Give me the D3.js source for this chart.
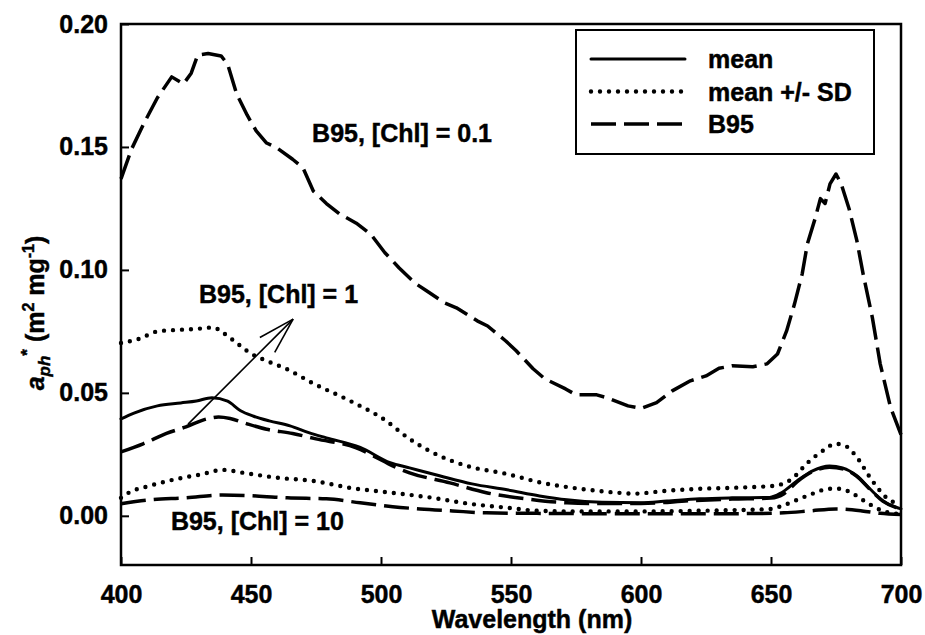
<!DOCTYPE html>
<html>
<head>
<meta charset="utf-8">
<script src="https://cdn.jsdelivr.net/npm/d3@7"></script>
<style>
  body { margin: 0; background: #fff; }
  svg { display: block; }
  text { font-family: "Liberation Sans", Arial, Helvetica, sans-serif; font-weight: bold; fill: #000; stroke: #000; stroke-width: 0.45px; }
</style>
</head>
<body>
<svg id="chart" width="925" height="635"></svg>
<script>
// ---------- DATA ----------
const xTicks = [400, 450, 500, 550, 600, 650, 700];
const yTicks = [0.00, 0.05, 0.10, 0.15, 0.20];

const b95_01_wl = [400,404,409,414,419.5,424,427,429.5,433.5,438.5,441,444.5,448.5,452,456,460,466,470,474,479,484,490.5,496,501.5,507,513,517.5,524.5,529,537,541,548,552,558.5,563,571,575,583,587,595,600,606,612,619,625,630,635,643,648.5,652.5,656,659,662,664,667,669,670.8,672.7,675,677,680,683,685.5,689,692,696,699,700];
const b95_01_val = [0.137,0.149,0.160,0.170,0.1785,0.1756,0.180,0.1874,0.188,0.187,0.1837,0.1715,0.163,0.1565,0.1516,0.1496,0.145,0.1415,0.132,0.127,0.1228,0.119,0.1146,0.107,0.1008,0.0947,0.0915,0.0866,0.0846,0.0793,0.0772,0.0711,0.0671,0.0598,0.0557,0.0516,0.0492,0.0492,0.048,0.0447,0.0437,0.046,0.0508,0.0549,0.0569,0.060,0.061,0.0606,0.0618,0.0658,0.0752,0.086,0.0984,0.1106,0.121,0.129,0.127,0.135,0.139,0.135,0.125,0.112,0.098,0.0805,0.0618,0.044,0.0358,0.033];

const mean_wl = [400,405,414,423,429,435,441,446,451,457,465,472.5,479,492,503.5,511,522.5,535,548.5,561,571.5,585,600,610,622.5,635,649.5,654,660,666,672.5,677.5,683,688,693,700];
const mean_val = [0.0394,0.0418,0.0447,0.0459,0.0467,0.048,0.0466,0.0427,0.0405,0.0386,0.0366,0.0337,0.0317,0.0278,0.0216,0.0195,0.0163,0.013,0.0106,0.0081,0.0065,0.0055,0.0053,0.006,0.0069,0.0073,0.0075,0.0094,0.0142,0.0183,0.0203,0.0195,0.0163,0.011,0.0061,0.0028];

const plusSD_wl = [400,407,414,421.5,429,435.5,439,444.5,449.5,456,463.5,474,488,502,510,519,533,548.5,562,576.5,591,597,610,622.5,635,651,658,664,671,674.5,678.5,682,689,694.5,700];
const plusSD_val = [0.0703,0.072,0.075,0.0756,0.076,0.0766,0.0746,0.0703,0.0663,0.063,0.0598,0.0538,0.0468,0.0386,0.032,0.0262,0.0203,0.017,0.0134,0.011,0.0094,0.009,0.0102,0.011,0.0114,0.0122,0.015,0.0215,0.0272,0.0293,0.0285,0.0252,0.0142,0.0073,0.0045];

const minusSD_wl = [400,403,411,421.5,431.5,439,447,460,474,488,504,520,534,548.5,561,575,600,630,650,654,661,666,672.5,676.5,681.5,687,693,700];
const minusSD_val = [0.0073,0.0094,0.0122,0.015,0.017,0.0187,0.0175,0.0155,0.0142,0.0114,0.0094,0.0073,0.0049,0.0033,0.002,0.0018,0.0018,0.0022,0.0028,0.004,0.0069,0.009,0.011,0.011,0.009,0.0053,0.002,0.0006];

const b95_1_wl = [400,408.5,417.5,425,433,437.5,442,448.5,456,466,475,490.5,497,504.5,511,526.5,540.5,556,571.5,585,600,620,635,650,655,660,666,672.5,678,683,688,693,700];
const b95_1_val = [0.026,0.0293,0.0335,0.0362,0.0394,0.0402,0.0396,0.0374,0.0352,0.0335,0.0313,0.0276,0.0244,0.0203,0.0175,0.0134,0.0094,0.0069,0.0053,0.005,0.005,0.0062,0.0068,0.0072,0.009,0.0138,0.018,0.0198,0.019,0.016,0.0108,0.006,0.0027];

const b95_10_wl = [400,411,425,439,452,464,479,492,504.5,515,527.5,540.5,560,600,640,655,665,675,685,692,700];
const b95_10_val = [0.0049,0.0065,0.0073,0.0085,0.0081,0.0073,0.0069,0.0053,0.0037,0.0028,0.002,0.0012,0.001,0.0008,0.0009,0.0012,0.002,0.0028,0.002,0.001,0.0005];

const legendLabels = ["mean", "mean +/- SD", "B95"];
const curveLabels = ["B95, [Chl] = 0.1", "B95, [Chl] = 1", "B95, [Chl] = 10"];
// label anchor positions in data units (wavelength, a*)
const curveLabelWl = [473.5, 430.0, 419.2];
const curveLabelVal = [0.1520, 0.0865, -0.0058];
// arrow in data units: tail -> tip
const arrowWl = [425.8, 466.2];
const arrowVal = [0.0373, 0.0800];

// ---------- LAYOUT ----------
const svg = d3.select("#chart");
const L = 121, R = 901, T = 24, B = 565;
const x = d3.scaleLinear().domain([400, 700]).range([L, R]);
const y = d3.scaleLinear().domain([-0.02, 0.20]).range([B, T]);
const FS = 25;

const styles = {
  solid:  { width: 3, dash: null, cap: "round" },
  dotted: { width: 4.4, dash: "0 9", cap: "round" },
  dashed: { width: 3.5, dash: "25 8", cap: "butt" }
};

function zip(wl, v) { return wl.map((w, i) => [w, v[i]]); }

const series = [
  { data: zip(b95_01_wl, b95_01_val), style: "dashed", curve: d3.curveLinear },
  { data: zip(b95_1_wl, b95_1_val), style: "dashed", curve: d3.curveMonotoneX },
  { data: zip(b95_10_wl, b95_10_val), style: "dashed", curve: d3.curveMonotoneX },
  { data: zip(plusSD_wl, plusSD_val), style: "dotted", curve: d3.curveMonotoneX },
  { data: zip(minusSD_wl, minusSD_val), style: "dotted", curve: d3.curveMonotoneX },
  { data: zip(mean_wl, mean_val), style: "solid", curve: d3.curveMonotoneX }
];

const gLines = svg.append("g");
series.forEach(s => {
  const line = d3.line().x(d => x(d[0])).y(d => y(d[1])).curve(s.curve);
  const st = styles[s.style];
  gLines.append("path")
    .attr("d", line(s.data))
    .attr("fill", "none")
    .attr("stroke", "#000")
    .attr("stroke-width", st.width)
    .attr("stroke-linecap", st.cap)
    .attr("stroke-linejoin", "round")
    .attr("stroke-dasharray", st.dash);
});

// ---------- AXES ----------
const xAxis = d3.axisBottom(x).tickValues(xTicks).tickSize(-8).tickPadding(20).tickFormat(d3.format("d"));
const yAxis = d3.axisLeft(y).tickValues(yTicks).tickSize(-8).tickPadding(13).tickFormat(d3.format(".2f"));

const gx = svg.append("g").attr("transform", `translate(0,${B})`).call(xAxis);
const gy = svg.append("g").attr("transform", `translate(${L},0)`).call(yAxis);
[gx, gy].forEach(g => {
  g.select(".domain").remove();
  g.selectAll(".tick line").attr("stroke", "#000").attr("stroke-width", 2);
  g.selectAll(".tick text").attr("font-size", FS).attr("font-family", "Liberation Sans, Arial, sans-serif").attr("font-weight", "bold").attr("fill", "#000");
});

// frame
svg.append("rect")
  .attr("x", L).attr("y", T).attr("width", R - L).attr("height", B - T)
  .attr("fill", "none").attr("stroke", "#000").attr("stroke-width", 2.5);

// axis titles
svg.append("text")
  .attr("x", 532).attr("y", 628)
  .attr("text-anchor", "middle").attr("font-size", FS)
  .text("Wavelength (nm)");

const yt = svg.append("text")
  .attr("transform", "translate(44,313) rotate(-90)")
  .attr("text-anchor", "middle").attr("font-size", FS);
yt.append("tspan").attr("font-style", "italic").text("a");
yt.append("tspan").attr("font-style", "italic").attr("font-size", 17).attr("dy", 6).text("ph");
yt.append("tspan").attr("font-size", 17).attr("dy", -17).text("*");
yt.append("tspan").attr("dy", 11).text(" (m");
yt.append("tspan").attr("font-size", 16).attr("dy", -10).text("2");
yt.append("tspan").attr("dy", 10).text(" mg");
yt.append("tspan").attr("font-size", 16).attr("dy", -10).text("-1");
yt.append("tspan").attr("dy", 10).text(")");

// curve labels
curveLabels.forEach((t, i) => {
  svg.append("text")
    .attr("x", x(curveLabelWl[i])).attr("y", y(curveLabelVal[i]))
    .attr("font-size", FS)
    .text(t);
});

// arrow
const ax0 = x(arrowWl[0]), ay0 = y(arrowVal[0]), ax1 = x(arrowWl[1]), ay1 = y(arrowVal[1]);
svg.append("line")
  .attr("x1", ax0).attr("y1", ay0).attr("x2", ax1).attr("y2", ay1)
  .attr("stroke", "#000").attr("stroke-width", 1.6);
const ang = Math.atan2(ay0 - ay1, ax0 - ax1);
[-0.28, 0.28].forEach(da => {
  const a = ang + da, len = 38;
  svg.append("line")
    .attr("x1", ax1).attr("y1", ay1)
    .attr("x2", ax1 + len * Math.cos(a)).attr("y2", ay1 + len * Math.sin(a))
    .attr("stroke", "#000").attr("stroke-width", 1.6);
});

// legend
const lg = svg.append("g");
lg.append("rect").attr("x", 576).attr("y", 30).attr("width", 298).attr("height", 124)
  .attr("fill", "#fff").attr("stroke", "#000").attr("stroke-width", 2);
const legStyles = ["solid", "dotted", "dashed"];
legendLabels.forEach((t, i) => {
  const yy = 59 + i * 32.5;
  const st = styles[legStyles[i]];
  lg.append("line").attr("x1", 591).attr("x2", 685).attr("y1", yy).attr("y2", yy)
    .attr("stroke", "#000").attr("stroke-width", st.width)
    .attr("stroke-linecap", st.cap).attr("stroke-dasharray", st.dash);
  lg.append("text").attr("x", 708).attr("y", yy + 9).attr("font-size", FS).text(t);
});
</script>
</body>
</html>
